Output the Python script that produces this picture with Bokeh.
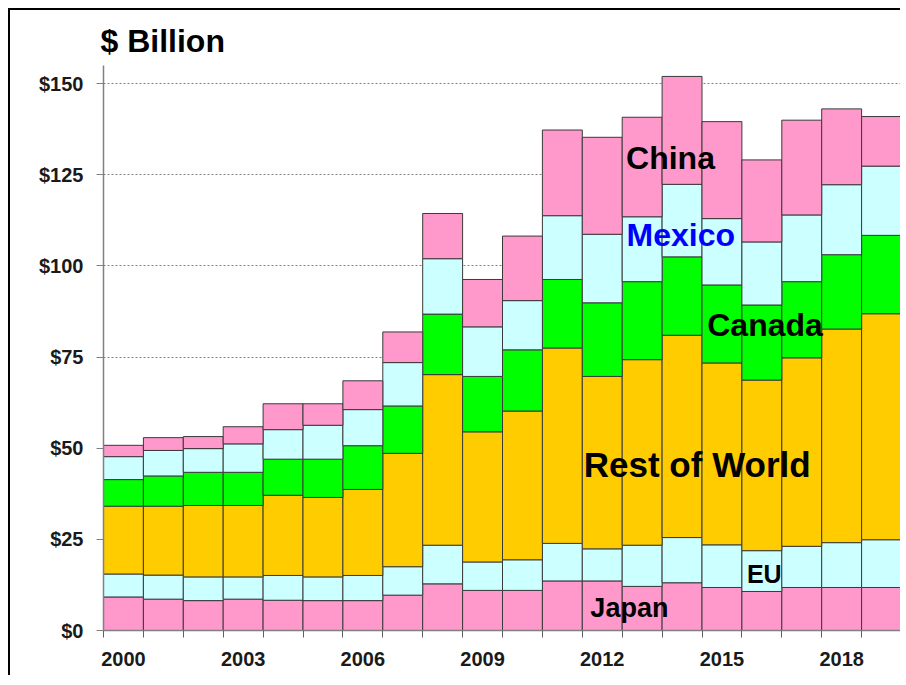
from bokeh.plotting import figure
from bokeh.models import FixedTicker, PrintfTickFormatter, Range1d, ColumnDataSource, Label
from bokeh.embed import file_html
from bokeh.resources import INLINE

years = list(range(2000, 2020))
japan = [9.2, 8.6, 8.2, 8.6, 8.3, 8.2, 8.2, 9.7, 12.8, 11.0, 11.0, 13.6, 13.6, 12.1, 13.1, 11.8, 10.7, 11.8, 11.8, 11.8]
eu = [6.3, 6.6, 6.5, 6.1, 6.8, 6.5, 6.9, 7.8, 10.6, 7.8, 8.4, 10.3, 8.8, 11.3, 12.4, 11.7, 11.2, 11.3, 12.3, 13.1]
rest_of_world = [18.6, 18.9, 19.6, 19.6, 22.0, 21.8, 23.6, 31.1, 46.8, 35.7, 40.8, 53.6, 47.3, 50.9, 55.5, 49.9, 46.8, 51.7, 58.6, 62.0]
canada = [7.3, 8.3, 9.1, 9.1, 9.9, 10.5, 12.0, 13.0, 16.6, 15.2, 16.8, 18.8, 20.2, 21.4, 21.5, 21.4, 20.6, 20.9, 20.4, 21.5]
mexico = [6.3, 7.0, 6.5, 7.8, 8.1, 9.3, 9.9, 11.9, 15.2, 13.6, 13.5, 17.5, 18.8, 17.8, 19.9, 18.2, 17.3, 18.3, 19.2, 19.0]
china = [3.1, 3.5, 3.3, 4.7, 7.1, 5.9, 7.9, 8.4, 12.4, 13.0, 17.7, 23.5, 26.6, 27.3, 29.6, 26.6, 22.5, 26.0, 20.8, 13.6]

series = ["Japan", "EU", "Rest of World", "Canada", "Mexico", "China"]
colors = ["#FF99CC", "#CCFFFF", "#FFCC00", "#00FF00", "#CCFFFF", "#FF99CC"]
y_ticks = [0, 25, 50, 75, 100, 125, 150]
x_label_years = [2000, 2003, 2006, 2009, 2012, 2015, 2018]

source = ColumnDataSource(data={
    "year": years, "Japan": japan, "EU": eu, "Rest of World": rest_of_world,
    "Canada": canada, "Mexico": mexico, "China": china,
})

FONT = "Liberation Sans"

p = figure(width=892, height=667, output_backend="svg", toolbar_location=None,
           x_range=Range1d(1999.5, 2019.5), y_range=Range1d(0, 155),
           min_border_left=93, min_border_right=1, min_border_top=55, min_border_bottom=47)
p.styles = {"margin-left": "8px", "margin-top": "8px",
            "border-left": "2px solid black", "border-top": "2px solid black"}
p.outline_line_color = None
p.background_fill_color = "white"

p.vbar_stack(series, x="year", width=1.0, source=source, fill_color=colors,
             line_color="#3a3a3a", line_width=1)

# title
p.title.text = "$ Billion"
p.title.text_font = FONT
p.title.text_font_size = "32px"
p.title.text_font_style = "bold"
p.title.text_color = "black"
p.title.align = "left"
p.title.offset = -3
p.title.standoff = 13

# grid
p.xgrid.visible = False
p.ygrid.ticker = FixedTicker(ticks=y_ticks[1:])
p.ygrid.grid_line_color = "#808080"
p.ygrid.grid_line_dash = "2 2"
p.ygrid.grid_line_width = 1

# y axis
ya = p.yaxis[0]
ya.ticker = FixedTicker(ticks=y_ticks)
ya.formatter = PrintfTickFormatter(format="$%d")
ya.axis_line_color = "#808080"
ya.axis_line_width = 1.5
ya.major_tick_line_color = "#808080"
ya.major_tick_out = 7
ya.major_tick_in = 0
ya.minor_tick_out = 0
ya.minor_tick_in = 0
ya.major_label_standoff = 13
ya.major_label_text_font = FONT
ya.major_label_text_font_size = "20px"
ya.major_label_text_font_style = "bold"
ya.major_label_text_color = "#1a1a1a"

# x axis
xa = p.xaxis[0]
xa.ticker = FixedTicker(ticks=x_label_years, minor_ticks=[y - 0.5 for y in years] + [years[-1] + 0.5])
xa.axis_line_color = "#808080"
xa.axis_line_width = 1.5
xa.major_tick_out = 0
xa.major_tick_in = 0
xa.minor_tick_out = 7
xa.minor_tick_in = 0
xa.minor_tick_line_color = "#606060"
xa.major_label_standoff = 14
xa.major_label_text_font = FONT
xa.major_label_text_font_size = "20px"
xa.major_label_text_font_style = "bold"
xa.major_label_text_color = "#1a1a1a"

# series labels
labels = [
    ("China", 2013.71, 129.6, "32px", "black"),
    ("Mexico", 2013.97, 108.4, "32px", "#0000FF"),
    ("Canada", 2016.08, 83.9, "32px", "black"),
    ("Rest of World", 2014.38, 45.5, "35px", "black"),
    ("EU", 2016.06, 15.5, "25px", "black"),
    ("Japan", 2012.68, 6.1, "27px", "black"),
]
for txt, lx, ly, fs, col in labels:
    p.add_layout(Label(x=lx, y=ly, text=txt, text_font=FONT, text_font_size=fs,
                       text_font_style="bold", text_color=col, text_align="center",
                       text_baseline="alphabetic"))

open("out.html", "w").write(file_html(p, INLINE))
